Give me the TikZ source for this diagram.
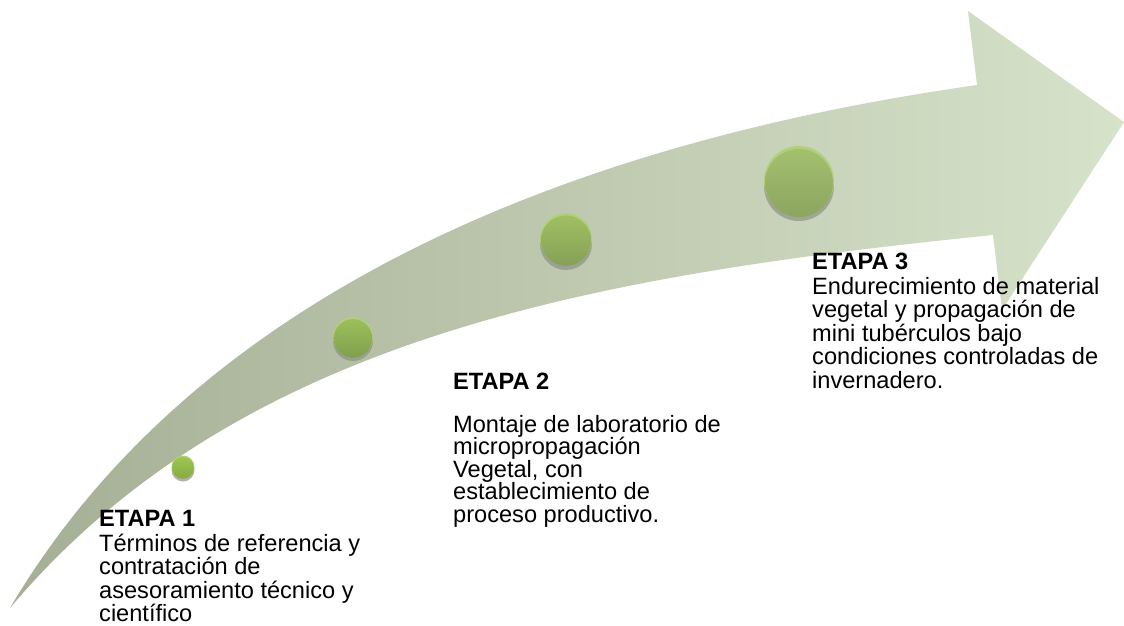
\documentclass[tikz,border=0pt]{standalone}
\usepackage{fontspec}
\setmainfont{Liberation Sans}
\definecolor{arrowdark}{HTML}{A4AF95}
\definecolor{arrowlight}{HTML}{D7E2CA}
\definecolor{ballRim}{HTML}{B2D07A}
\definecolor{ballShadow}{HTML}{8E9388}
\definecolor{bAtop}{HTML}{9DC64F}
\definecolor{bAbot}{HTML}{86AA45}
\definecolor{bBtop}{HTML}{9CBF5C}
\definecolor{bBbot}{HTML}{809F4D}
\definecolor{bCtop}{HTML}{A0C062}
\definecolor{bCbot}{HTML}{86A057}
\definecolor{bDtop}{HTML}{A3C06E}
\definecolor{bDbot}{HTML}{8CA560}
\begin{document}
\begin{tikzpicture}[x=1pt,y=-1pt,
  ball/.style={circle, inner sep=0pt, minimum size=#1, draw=none},
  ballshadow/.style={fill=ballShadow, opacity=0.7},
  title/.style={font=\fontsize{23.6}{23.5}\selectfont\bfseries, inner sep=0pt},
  body/.style={font=\fontsize{23.6}{#1}\selectfont, align=left, inner sep=0pt},
  body/.default={23.5}
]
\useasboundingbox (0,0) rectangle (1124,625);
% curved arrow
\path[left color=arrowdark, right color=arrowlight]
  (10,608) .. controls (180,320) and (520,150) .. (977,85)
  -- (968,11) -- (1124,122) -- (1002,310) -- (993,235)
  .. controls (600,275) and (240,335) .. (10,608) -- cycle;
% balls
\fill[ballshadow] (183,470) circle (11.5pt);
\fill[ballRim] (183,467) circle (11.5pt);
\node[ball=22pt, top color=bAtop, bottom color=bAbot] (s1) at (183,467.8) {};
\fill[ballshadow] (353,341) circle (20pt);
\fill[ballRim] (353,337) circle (20pt);
\node[ball=38.6pt, top color=bBtop, bottom color=bBbot] (s2) at (353,338.4) {};
\fill[ballshadow] (566,244) circle (26pt);
\fill[ballRim] (566,239) circle (26pt);
\node[ball=50.4pt, top color=bCtop, bottom color=bCbot] (s3) at (566,240.6) {};
\fill[ballshadow] (799,186) circle (35pt);
\fill[ballRim] (799,181) circle (35pt);
\node[ball=68pt, top color=bDtop, bottom color=bDbot] (s4) at (799,183) {};
% texts
\node[title, anchor=base west] (t1) at (99,526) {ETAPA 1};
\node[body, anchor=base west] (b1) at (99,621.5) {Términos de referencia y\\contratación de\\asesoramiento técnico y\\científico};
\node[title, anchor=base west] (t2) at (453,389) {ETAPA 2};
\node[body=22.5, anchor=base west] (b2) at (453,522) {Montaje de laboratorio de\\micropropagación\\Vegetal, con\\establecimiento de\\proceso productivo.};
\node[title, anchor=base west] (t3) at (812,269) {ETAPA 3};
\node[body, anchor=base west] (b3) at (812,388) {Endurecimiento de material\\vegetal y propagación de\\mini tubérculos bajo\\condiciones controladas de\\invernadero.};
\end{tikzpicture}
\end{document}
